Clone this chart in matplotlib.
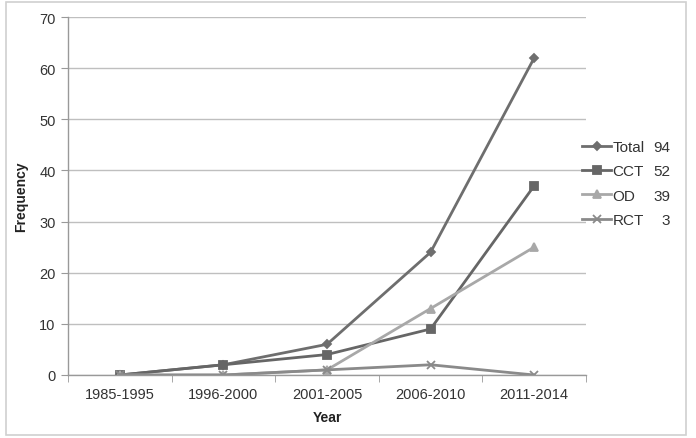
import matplotlib
matplotlib.use("Agg")
from matplotlib import patches
from matplotlib import pyplot as plt

# Chart data
years = ["1985-1995", "1996-2000", "2001-2005", "2006-2010", "2011-2014"]
total = [0, 2, 6, 24, 62]
cct = [0, 2, 4, 9, 37]
od = [0, 0, 1, 13, 25]
rct = [0, 0, 1, 2, 0]
series_names = ["Total", "CCT", "OD", "RCT"]
series_totals = [94, 52, 39, 3]

plt.rcParams["font.family"] = ["Liberation Sans", "DejaVu Sans"]

fig = plt.figure(figsize=(6.96, 4.39), dpi=100)
ax = fig.add_axes([68 / 696, 63 / 439, 518 / 696, 358 / 439])

# light frame around the whole chart
fig.patches.append(patches.Rectangle((6 / 696, 3 / 439), 680 / 696, 433 / 439,
                                     transform=fig.transFigure, fill=False,
                                     edgecolor="#d0d0d0", linewidth=1.2))

x = range(len(years))
styles = [
    (total, "#6e6e6e", "D", 4),
    (cct, "#666666", "s", 5.5),
    (od, "#a8a8a8", "^", 6),
    (rct, "#8a8a8a", "x", 6),
]
handles = []
for (vals, col, mk, ms), name in zip(styles, series_names):
    h, = ax.plot(x, vals, color=col, marker=mk, markersize=ms, linewidth=2,
                 markeredgewidth=1.3, label=name)
    handles.append(h)

ax.set_xlim(-0.5, len(years) - 0.5)
ax.set_ylim(0, 70)
ax.set_yticks(range(0, 71, 10))
ax.set_xticks(list(x))
ax.set_xticklabels(years)
ax.set_xticks([i - 0.5 for i in range(len(years) + 1)], minor=True)
ax.tick_params(axis="x", which="major", length=0, pad=9, labelsize=10.5, labelcolor="#333333")
ax.tick_params(axis="x", which="minor", length=5, color="#999999", direction="out")
ax.tick_params(axis="y", length=5, color="#999999", labelsize=10.5, labelcolor="#333333", pad=4)

ax.grid(axis="y", color="#bfbfbf", linewidth=1)
ax.set_axisbelow(True)
for side in ["top", "right"]:
    ax.spines[side].set_visible(False)
for side in ["left", "bottom"]:
    ax.spines[side].set_color("#999999")
    ax.spines[side].set_linewidth(1)

ax.set_xlabel("Year", fontsize=10, fontweight="bold", color="#222222", labelpad=6)
ax.set_ylabel("Frequency", fontsize=10, fontweight="bold", color="#222222", labelpad=8)

leg = fig.legend(handles=handles, loc="upper left", bbox_to_anchor=(582 / 696, 1 - 141 / 439),
                 frameon=False, fontsize=11, handlelength=1.9, handletextpad=0.1,
                 labelspacing=0.68, borderaxespad=0, borderpad=0)
for t in leg.get_texts():
    t.set_color("#333333")

fig.canvas.draw()
for t, n in zip(leg.get_texts(), series_totals):
    bb = t.get_window_extent()
    ymid = (bb.y0 + bb.y1) / 2 / fig.bbox.height
    fig.text(670 / 696, ymid, str(n), ha="right", va="center", fontsize=11, color="#333333")

fig.savefig("out.png", dpi=100)
